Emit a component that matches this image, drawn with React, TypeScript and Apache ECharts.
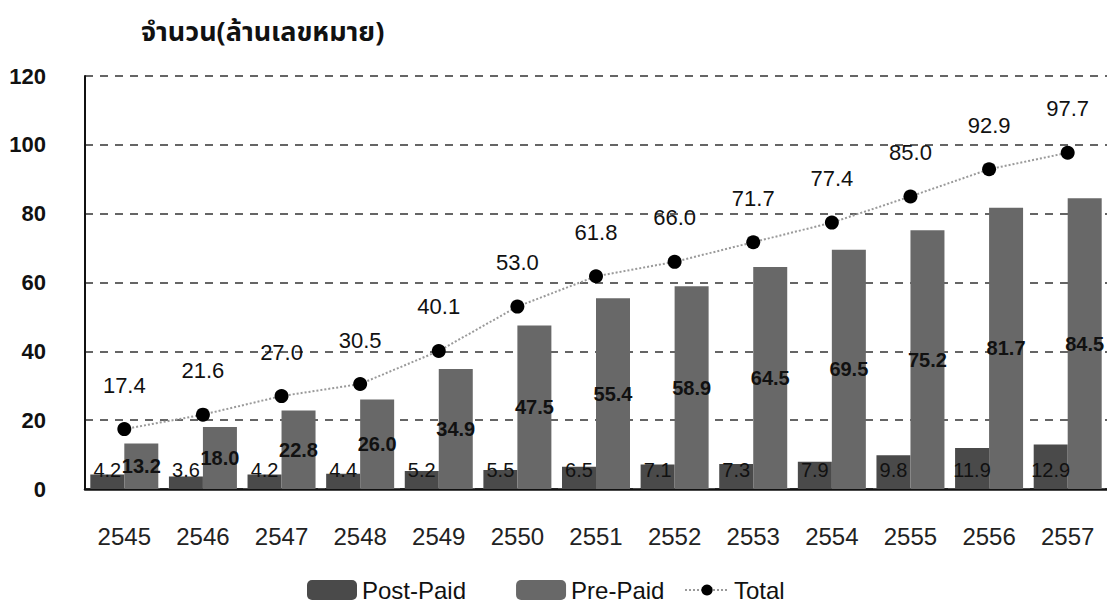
import React, { useEffect, useRef } from "react";
import * as echarts from "echarts";

const years = ["2545", "2546", "2547", "2548", "2549", "2550", "2551", "2552", "2553", "2554", "2555", "2556", "2557"];
const postPaid = [4.2, 3.6, 4.2, 4.4, 5.2, 5.5, 6.5, 7.1, 7.3, 7.9, 9.8, 11.9, 12.9];
const prePaid = [13.2, 18.0, 22.8, 26.0, 34.9, 47.5, 55.4, 58.9, 64.5, 69.5, 75.2, 81.7, 84.5];
const total = [17.4, 21.6, 27.0, 30.5, 40.1, 53.0, 61.8, 66.0, 71.7, 77.4, 85.0, 92.9, 97.7];
const yTicks = { min: 0, max: 120, interval: 20 };
const titleText = "จำนวน(ล้านเลขหมาย)";
const seriesNames = ["Post-Paid", "Pre-Paid", "Total"];

const FONT = "'Liberation Sans', Arial, 'DejaVu Sans', sans-serif";
const THAI = "Tahoma, 'Noto Sans Thai', 'Loma', 'Garuda', 'Noto Sans', 'DejaVu Sans', sans-serif";

export default function App() {
  const ref = useRef<HTMLDivElement>(null);
  useEffect(() => {
    if (!ref.current) return;
    const chart = echarts.init(ref.current, undefined, { renderer: "svg" });
    const fmt = (p: any) => Number(p.value).toFixed(1);
    chart.setOption({
      animation: false,
      backgroundColor: "#ffffff",
      title: {
        text: titleText,
        left: 136,
        top: 14,
        textStyle: { fontFamily: THAI, fontSize: 27, fontWeight: "bold", color: "#111" },
      },
      legend: [
        {
          data: [seriesNames[0], seriesNames[1]],
          left: 307,
          top: 578,
          itemWidth: 50,
          itemHeight: 20,
          itemGap: 50,
          padding: 0,
          textStyle: { fontFamily: FONT, fontSize: 24, color: "#111" },
        },
        {
          data: [seriesNames[2]],
          left: 684,
          top: 578,
          itemWidth: 44,
          itemHeight: 14,
          padding: 0,
          textStyle: { fontFamily: FONT, fontSize: 24, color: "#111" },
        },
      ],
      grid: { left: 85, top: 76, width: 1027, bottom: 119, containLabel: false },
      xAxis: {
        type: "category",
        data: years,
        axisLine: { show: true, lineStyle: { color: "#111", width: 2.5 } },
        axisTick: { show: false },
        axisLabel: { fontFamily: FONT, fontSize: 24, color: "#222", margin: 35 },
      },
      yAxis: {
        type: "value",
        min: yTicks.min,
        max: yTicks.max,
        interval: yTicks.interval,
        axisLine: { show: true, lineStyle: { color: "#111", width: 2 } },
        axisTick: { show: false },
        axisLabel: { fontFamily: FONT, fontSize: 22, fontWeight: "bold", color: "#111", margin: 39 },
        splitLine: { show: true, lineStyle: { color: "#333", width: 1.5, type: [8, 7] } },
      },
      series: [
        {
          name: seriesNames[0],
          type: "bar",
          data: postPaid,
          barWidth: 34,
          barGap: "0%",
          itemStyle: { color: "#4a4a4a" },
          label: {
            show: true,
            position: "insideBottom",
            distance: 9,
            formatter: fmt,
            fontFamily: FONT,
            fontSize: 20,
            color: "#111",
          },
        },
        {
          name: seriesNames[1],
          type: "bar",
          data: prePaid,
          barWidth: 34,
          barGap: "0%",
          itemStyle: { color: "#686868" },
          label: {
            show: true,
            position: "inside",
            formatter: fmt,
            fontFamily: FONT,
            fontSize: 20,
            fontWeight: "bold",
            color: "#111",
          },
        },
        {
          name: seriesNames[2],
          type: "line",
          data: total,
          symbol: "circle",
          symbolSize: 14,
          z: 5,
          itemStyle: { color: "#000" },
          lineStyle: { color: "#9a9a9a", width: 2, type: "dotted" },
          label: {
            show: true,
            position: "top",
            distance: 26,
            formatter: fmt,
            fontFamily: FONT,
            fontSize: 22,
            color: "#111",
          },
        },
      ],
    });
    return () => chart.dispose();
  }, []);
  return (
    <div style={{ position: "absolute", left: 0, top: 0, width: 1107, height: 608, overflow: "hidden", background: "#fff" }}>
      <div ref={ref} style={{ width: 1107, height: 608 }} />
    </div>
  );
}
